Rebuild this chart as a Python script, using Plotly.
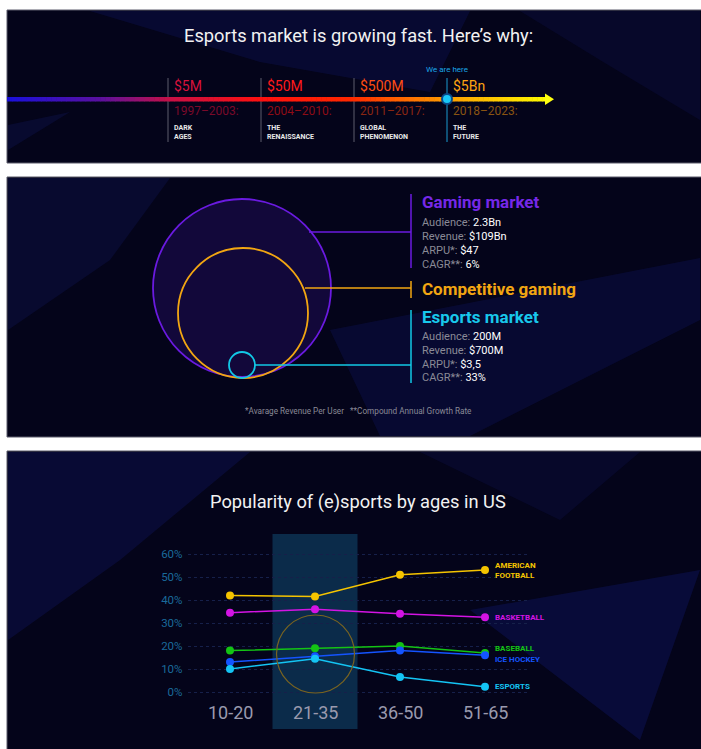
import plotly.graph_objects as go

W, H = 701, 749
def px(x): return x / W
def py(y): return 1 - y / H

# ---------------- DATA ----------------
era_values = ["$5M", "$50M", "$500M", "$5Bn"]
era_years = ["1997–2003:", "2004–2010:", "2011–2017:", "2018–2023:"]
era_names = ["DARK<br>AGES", "THE<br>RENAISSANCE", "GLOBAL<br>PHENOMENON", "THE<br>FUTURE"]

gaming_labels = ["Audience:", "Revenue:", "ARPU*:", "CAGR**:"]
gaming_values = ["2.3Bn", "$109Bn", "$47", "6%"]
esports_labels = ["Audience:", "Revenue:", "ARPU*:", "CAGR**:"]
esports_values = ["200M", "$700M", "$3,5", "33%"]

age_groups = ["10-20", "21-35", "36-50", "51-65"]
american_football = [42, 41.5, 51, 53]
basketball = [34.5, 36, 34, 32.5]
baseball = [18, 19, 20, 17]
ice_hockey = [13, 15.5, 18, 16]
esports = [10, 14.5, 6.5, 2.3]
y_tick_vals = [0, 10, 20, 30, 40, 50, 60]
y_tick_text = ["0%", "10%", "20%", "30%", "40%", "50%", "60%"]

FONT = "Roboto"
BG = "#04041a"

shapes = []
annots = []

def rect(x0, y0, x1, y1, fill, line=None, lw=0, layer="below"):
    shapes.append(dict(type="rect", xref="paper", yref="paper", x0=px(x0), x1=px(x1),
                       y0=py(y1), y1=py(y0), fillcolor=fill,
                       line=dict(color=line or fill, width=lw), layer=layer))

def poly(pts, fill):
    d = "M " + " L ".join(f"{px(x)},{py(y)}" for x, y in pts) + " Z"
    shapes.append(dict(type="path", xref="paper", yref="paper", path=d, fillcolor=fill,
                       line=dict(width=0), layer="below"))

def line(x0, y0, x1, y1, color, w=1, layer="below"):
    shapes.append(dict(type="line", xref="paper", yref="paper", x0=px(x0), x1=px(x1),
                       y0=py(y0), y1=py(y1), line=dict(color=color, width=w), layer=layer))

def circle(cx, cy, r, color, w=1.5, fill="rgba(0,0,0,0)", layer="below"):
    shapes.append(dict(type="circle", xref="paper", yref="paper", x0=px(cx - r), x1=px(cx + r),
                       y0=py(cy + r), y1=py(cy - r), fillcolor=fill,
                       line=dict(color=color, width=w), layer=layer))

def text(x, y, s, size, color, xa="left", ya="middle", bold=False):
    annots.append(dict(xref="paper", yref="paper", x=px(x), y=py(y), text=(f"<b>{s}</b>" if bold else s),
                       showarrow=False, xanchor=xa, yanchor=ya,
                       font=dict(size=size, color=color, family=FONT), align="left"))

# ---------------- PANELS ----------------
panels = [(10, 163), (177, 437), (451, 760)]
for (t, b) in panels:
    rect(7, t, 705, b, BG, line="#5a5a6a", lw=1)

# background polygons (subtle)
poly([(90, 11), (470, 11), (430, 92), (260, 62)], "rgba(18,26,110,0.28)")
poly([(520, 11), (700, 11), (700, 120), (600, 60)], "rgba(18,26,110,0.2)")
poly([(8, 125), (70, 112), (8, 150)], "rgba(18,26,110,0.25)")
poly([(8, 178), (170, 178), (110, 260), (8, 330)], "rgba(18,26,110,0.25)")
poly([(330, 330), (700, 258), (700, 320), (470, 436), (380, 436)], "rgba(18,26,110,0.28)")
poly([(8, 452), (250, 452), (120, 560), (8, 640)], "rgba(18,26,110,0.32)")
poly([(420, 452), (640, 452), (560, 520)], "rgba(18,26,110,0.2)")
poly([(470, 610), (700, 570), (640, 740)], "rgba(20,30,130,0.3)")

# ---------------- PANEL 1: timeline ----------------
text(358, 35, "Esports market is growing fast. Here’s why:", 18.3, "#f2f2f2", xa="center")

stops = [(7, (26, 16, 220)), (100, (90, 16, 160)), (170, (200, 16, 70)), (260, (255, 16, 16)),
         (350, (255, 40, 0)), (440, (255, 150, 0)), (548, (255, 255, 0))]
def grad(x):
    for (xa_, ca), (xb_, cb) in zip(stops, stops[1:]):
        if xa_ <= x <= xb_:
            t = (x - xa_) / (xb_ - xa_)
            return "rgb(%d,%d,%d)" % tuple(int(a + (b - a) * t) for a, b in zip(ca, cb))
    return "rgb(255,255,0)"
N = 110
x_start, x_end = 7, 547
for i in range(N):
    xa_ = x_start + (x_end - x_start) * i / N
    xb_ = x_start + (x_end - x_start) * (i + 1) / N
    rect(xa_, 97, xb_ + 0.6, 101.5, grad((xa_ + xb_) / 2), layer="above")
d = f"M {px(545)},{py(93.5)} L {px(554)},{py(99.2)} L {px(545)},{py(105)} Z"
shapes.append(dict(type="path", xref="paper", yref="paper", path=d, fillcolor="#ffff10",
                   line=dict(width=0), layer="above"))

val_colors = ["#d8123c", "#ff1a1a", "#ff4d12", "#ffa412"]
yr_colors = ["#7a0a2a", "#8e0c16", "#8a2612", "#8a5412"]
for i in range(len(era_values)):
    x0 = 168 + i * 93
    line(x0, 78, x0, 142, "#1a9ad0" if i == 3 else "#5c5c6c", 1)
    text(x0 + 4, 86, era_values[i], 14, val_colors[i])
    text(x0 + 4, 111, era_years[i], 12, yr_colors[i])
    text(x0 + 4, 132, era_names[i], 7, "#e8e8e8", bold=True)
text(447, 69, "We are here", 8, "#1aa8e8", xa="center")
circle(447, 99, 5, "#0a4a8a", w=2, fill="#18c8f8", layer="above")

# ---------------- PANEL 2: market circles ----------------
circle(242, 288, 89, "#6a1ae0", w=1.8, fill="rgba(60,25,150,0.26)")
circle(243, 313, 65, "#f2a612", w=1.8)
circle(242, 365, 13, "#12c8e6", w=1.8)
line(309, 232, 411, 232, "#6a1ae0", 1.5)
line(411, 194, 411, 268, "#6a1ae0", 1.5)
line(305, 288, 411, 288, "#f2a612", 1.5)
line(411, 281, 411, 298, "#f2a612", 1.5)
line(255, 365, 411, 365, "#12c8e6", 1.5)
line(411, 310, 411, 383, "#12c8e6", 1.5)

text(420, 202, "Gaming market", 17, "#7628e8", bold=True)
for k in range(4):
    text(420, 222 + k * 14, f"{gaming_labels[k]} <span style='color:#ffffff'>{gaming_values[k]}</span>",
         11, "#8a8a96")
text(420, 289, "Competitive gaming", 17, "#f2a612", bold=True)
text(420, 317, "Esports market", 17, "#18c8ec", bold=True)
for k in range(4):
    text(420, 336 + k * 14, f"{esports_labels[k]} <span style='color:#ffffff'>{esports_values[k]}</span>",
         11, "#8a8a96")
text(358, 411, "*Avarage Revenue Per User &nbsp; **Compound Annual Growth Rate", 8.2, "#8a8a96", xa="center")

# ---------------- PANEL 3: line chart ----------------
text(358, 502, "Popularity of (e)sports by ages in US", 18.3, "#f2f2f2", xa="center")
shapes.append(dict(type="rect", xref="x", yref="paper", x0=0.5, x1=1.5, y0=py(729), y1=py(534),
                   fillcolor="#0b2b4a", line=dict(width=0), layer="below"))
circle(315.5, 654, 39, "#7a6420", w=1.2, layer="above")

series = [
    ("AMERICAN<br>FOOTBALL", american_football, "#f5c400", 0),
    ("BASKETBALL", basketball, "#d414e4", 0),
    ("BASEBALL", baseball, "#14c414", 4),
    ("ICE HOCKEY", ice_hockey, "#1454ff", -4),
    ("ESPORTS", esports, "#14c4f4", 0),
]

fig = go.Figure()
for name, vals, col, ysh in series:
    fig.add_trace(go.Scatter(x=age_groups, y=vals, mode="lines+markers", name=name.replace("<br>", " "),
                             line=dict(color=col, width=1.5), marker=dict(color=col, size=8),
                             showlegend=False, cliponaxis=False))
    annots.append(dict(xref="x", yref="y", x=age_groups[-1], y=vals[-1], text=f"<b>{name}</b>",
                       showarrow=False, xanchor="left", yanchor="middle", xshift=8, yshift=ysh,
                       font=dict(size=8, color=col, family=FONT), align="left"))

for g in age_groups:
    annots.append(dict(xref="x", yref="paper", x=g, y=py(712), text=g, showarrow=False,
                       xanchor="center", yanchor="middle",
                       font=dict(size=18, color="#9a9aae", family=FONT)))

fig.update_layout(
    width=W, height=H, margin=dict(l=0, r=0, t=0, b=0),
    paper_bgcolor="#ffffff", plot_bgcolor="rgba(0,0,0,0)",
    shapes=shapes, annotations=annots,
    font=dict(family=FONT),
    xaxis=dict(domain=[px(187.5), px(527.5)], range=[-0.5, 3.5], type="category",
               showgrid=False, zeroline=False, showline=False, ticks="", showticklabels=False,
               anchor="y"),
    yaxis=dict(domain=[py(703.5), py(542.5)], range=[-5, 65], tickvals=y_tick_vals,
               ticktext=y_tick_text, showgrid=True, gridcolor="#16204a", griddash="dot",
               gridwidth=1, zeroline=False, showline=False,
               tickfont=dict(size=11.5, color="#1a6a9a"), ticklabelstandoff=4, anchor="x"),
)
fig.write_html("out.html")
